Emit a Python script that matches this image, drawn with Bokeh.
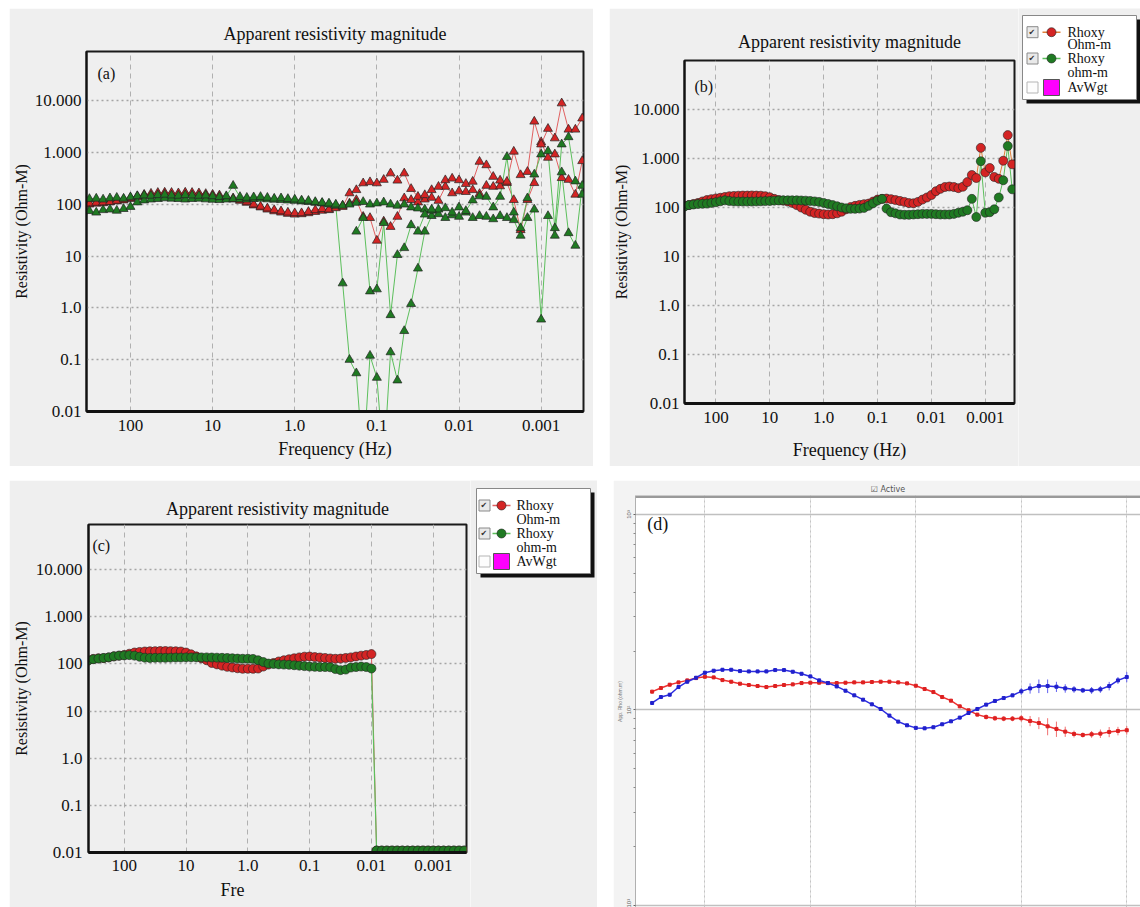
from bokeh.plotting import figure
from bokeh.models import Range1d, FixedTicker, Label, Title, Spacer, Grid, Span
from bokeh.core.properties import value
from bokeh.layouts import row, column
from bokeh.embed import file_html
from bokeh.resources import INLINE

SERIF = "Liberation Serif"
BG = "#efefef"

# ---------------- data ----------------
FREQ = [383.1, 316.2, 261.0, 215.4, 177.8, 146.8, 121.2, 100.0, 82.54, 68.13, 56.23, 46.42,
        38.31, 31.62, 26.10, 21.54, 17.78, 14.68, 12.12, 10.0, 8.254, 6.813, 5.623, 4.642,
        3.831, 3.162, 2.610, 2.154, 1.778, 1.468, 1.212, 1.0, 0.8254, 0.6813, 0.5623, 0.4642,
        0.3831, 0.3162, 0.2610, 0.2154, 0.1778, 0.1468, 0.1212, 0.1, 0.08254, 0.06813, 0.05623, 0.04642,
        0.03831, 0.03162, 0.02610, 0.02154, 0.01778, 0.01468, 0.01212, 0.01, 0.008254, 0.006813, 0.005623, 0.004642,
        0.003831, 0.003162, 0.002610, 0.002154, 0.001778, 0.001468, 0.001212, 0.001, 0.0008254, 0.0006813, 0.0005623, 0.0004642,
        0.0003831, 0.0003162]

X_TICKS = [100, 10, 1, 0.1, 0.01, 0.001]
X_LABELS = ["100", "10", "1.0", "0.1", "0.01", "0.001"]
Y_TICKS = [0.01, 0.1, 1, 10, 100, 1000, 10000]
Y_LABELS = ["0.01", "0.1", "1.0", "10", "100", "1.000", "10.000"]

# panel (a)
A_RED1 = [100, 105, 108, 110, 112, 118, 125, 135, 145, 155, 162, 168, 170, 168, 165, 170, 168, 165, 160, 155,
          150, 140, 132, 125, 113, 100, 91, 84, 78, 74, 70, 68, 68, 72, 78, 82, 80, 85, 90,
          165, 190, 257, 270, 257, 300, 400, 290, 400, 200, 141, 152, 190, 220, 295, 317, 295, 250, 276, 670,
          575, 343, 290, 276, 1050, 370, 427, 4000, 1450, 2900, 1900, 9000, 2800, 2800, 4600]
A_RED2 = [95, 100, 104, 106, 110, 115, 120, 128, 138, 148, 152, 158, 160, 158, 156, 160, 158, 155, 150, 146,
          140, 132, 125, 118, 108, 96, 88, 80, 74, 70, 66, 64, 65, 68, 72, 76, 78,
          90, 95, 105, 122, 58, 55, 20, 47, 37, 58, 132, 122, 110, 125, 135, 118, 220, 165, 180, 175,
          190, 160, 230, 220, 225, 260, 122, 32, 122, 260, 1600, 800, 930, 325, 300, 155, 690]
A_GREEN1 = [120, 128, 130, 125, 132, 135, 130, 138, 145, 150, 148, 152, 155, 150, 148, 152, 150, 148, 150, 145,
            140, 145, 230, 140, 135, 138, 140, 135, 130, 132, 128, 125, 120, 118, 112, 108, 105, 100, 95,
            100, 108, 112, 100, 105, 110, 100, 95, 100, 88, 84, 80, 76, 80, 85, 70, 88, 75, 120, 144,
            141, 88, 141, 830, 70, 35, 132, 380, 930, 1070, 35, 1450, 2000, 280, 155]
A_GREEN2 = [72, 75, 70, 78, 80, 76, 82, 90, 110, 120, 125, 128, 132, 130, 128, 125, 128, 130, 126, 124,
            122, 125, 128, 126, 125, 128, 130, 126, 124, 122, 120, 118, 115, 112, 108, 105, 100, 95,
            3.0, 0.1, 0.055, 0.001, 0.12, 0.045, 0.001, 0.14, 0.04, 0.36, 1.2, 5.8, 30, 60, 65, 55, 62, 58,
            70, 55, 60, 58, 52, 60, 55, 50, 25, 55, 80, 0.6, 60, 25, 420, 28, 16, 230]
A_GREEN3_FREQ = [0.1778, 0.1468, 0.1212, 0.1, 0.08254, 0.06813, 0.05623, 0.04642, 0.03831, 0.03162, 0.02610, 0.02154]
A_GREEN3 = [30, 55, 2.1, 2.3, 44, 0.73, 10.6, 14.4, 40, 30, 64, 80]

# panel (b)
B_RED = [108, 112, 118, 124, 133, 142, 148, 153, 158, 164,
         170, 172, 174, 175, 175, 176, 175, 174, 170, 162,
         150, 142, 138, 132, 124, 112, 100, 90, 82, 77,
         75, 73, 72, 73, 76, 82, 92, 102, 108, 113,
         117, 120, 132, 145, 150, 152, 148, 142, 136, 130,
         123, 122, 130, 145, 160, 180, 215, 240, 262, 268,
         262, 248, 265, 330, 460, 400, 1650, 520, 640, 420,
         385, 900, 3000, 760]
B_GREEN = [105, 112, 115, 118, 119, 120, 124, 128, 134, 140,
           136, 133, 132, 132, 132, 132, 133, 134, 135, 136,
           138, 139, 140, 140, 140, 140, 139, 138, 136, 133,
           130, 124, 118, 112, 106, 100, 96, 94, 94, 95,
           98, 108, 122, 138, 150, 95, 80, 76, 72, 71,
           71, 72, 73, 74, 74, 74, 73, 72, 72, 72,
           74, 78, 82, 88, 150, 64, 880, 78, 80, 92,
           160, 360, 1800, 235]

# panel (c)
C_RED = [120, 128, 132, 133, 138, 145, 150, 155, 165, 175,
         180, 184, 186, 187, 188, 188, 187, 186, 184, 175,
         160, 145, 132, 120, 105, 98, 92, 87, 84, 81,
         79, 79, 79, 80, 88, 97, 105, 113, 120, 126,
         132, 138, 143, 144, 140, 137, 134, 131, 129, 130,
         134, 138, 144, 150, 155, 162,
         0.011, 0.011, 0.011, 0.011, 0.011, 0.011, 0.011, 0.011, 0.011,
         0.011, 0.011, 0.011, 0.011, 0.011, 0.011, 0.011, 0.011, 0.011]
C_GREEN = [118, 126, 130, 134, 138, 145, 150, 152, 154, 150,
           142, 136, 134, 135, 135, 135, 136, 137, 137, 138,
           138, 138, 138, 138, 137, 136, 135, 134, 132, 130,
           129, 129, 128, 120, 110, 102, 100, 98, 97, 96,
           94, 92, 90, 88, 87, 86, 86, 85, 78, 74,
           76, 84, 86, 88, 86, 80,
           0.011, 0.011, 0.011, 0.011, 0.011, 0.011, 0.011, 0.011, 0.011,
           0.011, 0.011, 0.011, 0.011, 0.011, 0.011, 0.011, 0.011, 0.011]

# panel (d)
D_PERIOD = [0.0003162, 0.0003831, 0.0004642, 0.0005623, 0.0006813, 0.0008254,
            0.001, 0.001212, 0.001468, 0.001778, 0.002154, 0.002610, 0.003162, 0.003831, 0.004642, 0.005623, 0.006813, 0.008254,
            0.01, 0.01212, 0.01468, 0.01778, 0.02154, 0.02610, 0.03162, 0.03831, 0.04642, 0.05623, 0.06813, 0.08254,
            0.1, 0.1212, 0.1468, 0.1778, 0.2154, 0.2610, 0.3162, 0.3831, 0.4642, 0.5623, 0.6813, 0.8254,
            1.0, 1.212, 1.468, 1.778, 2.154, 2.610, 3.162, 3.831, 4.642, 5.623, 6.813, 8.254, 10.0]
D_BLUE = [108.6, 116.5, 119.7, 131.0, 139.5, 146.2, 155.1, 158.8, 160.6, 160.6,
          158.1, 157.5, 157.5, 157.5, 160.0, 160.0, 156.9, 153.2, 148.5, 141.7,
          137.3, 132.0, 125.5, 118.8, 112.9, 106.9, 101.2, 93.6, 87.2, 83.5,
          81.0, 80.6, 81.6, 84.5, 87.5, 91.4, 96.5, 101.2, 106.5, 111.2,
          115.1, 118.8, 124.5, 129.0, 132.6, 132.6, 131.5, 129.0, 127.5, 126.0,
          126.0, 127.5, 132.6, 141.7, 147.4]
D_RED = [124.1, 129.5, 134.7, 138.4, 141.7, 145.6, 147.9, 146.8, 142.2, 139.5,
         136.3, 134.2, 132.6, 131.0, 132.6, 134.2, 135.2, 137.3, 137.9, 137.9,
         137.3, 137.3, 137.9, 138.4, 138.4, 139.0, 139.5, 139.5, 138.4, 136.8,
         133.1, 128.0, 123.5, 116.5, 111.6, 104.4, 99.6, 94.7, 92.1, 90.7,
         90.3, 90.3, 90.7, 87.9, 85.8, 82.5, 80.0, 77.5, 75.4, 74.5,
         75.1, 75.7, 77.2, 78.1, 78.8]
D_BLUE_ERR = [2, 2, 2, 2, 2, 2, 2, 2, 2, 2, 2, 2, 2, 2, 2, 2, 2, 2, 2, 2,
              2, 2, 2, 2, 2, 2, 2, 2, 2, 2, 2, 2, 2, 2, 2, 2, 2, 2, 2, 2,
              2, 2, 4, 6, 8, 8, 6, 5, 4, 3, 4, 4, 5, 4, 6]
D_RED_ERR = [2, 2, 2, 2, 2, 2, 2, 2, 2, 2, 2, 2, 2, 2, 2, 2, 2, 2, 2, 2,
             2, 2, 2, 2, 2, 2, 2, 2, 2, 2, 2, 2, 2, 2, 2, 2, 2, 2, 3, 3,
             3, 3, 4, 6, 7, 10, 9, 6, 4, 3, 4, 5, 6, 5, 5]
D_X_TICKS = [0.001, 0.01, 0.1, 1, 10]
D_Y_TICKS = [10, 100, 1000]
D_Y_LABELS = ["10\u00b9", "10\u00b2", "10\u00b3"]
D_Y_MINOR = [20, 30, 40, 50, 60, 70, 80, 90, 200, 300, 400, 500, 600, 700, 800, 900]

LEGEND_TEXT = ["Rhoxy", "Ohm-m", "Rhoxy", "ohm-m", "AvWgt"]

RED_F, RED_L = "#d42424", "#e06060"
GRN_F, GRN_L = "#1f7a22", "#5cbf5c"


def base_panel(width, height, xr, yr, title, borders, xlabel, ylabel):
    l, r, t, b = borders
    p = figure(width=width, height=height, x_axis_type="log", y_axis_type="log",
               x_range=Range1d(*xr), y_range=Range1d(*yr), title=title,
               toolbar_location=None, output_backend="svg",
               min_border_left=l, min_border_right=r, min_border_top=t, min_border_bottom=b)
    p.background_fill_color = BG
    p.border_fill_color = BG
    p.outline_line_color = "#1a1a1a"
    p.outline_line_width = 2
    p.title.text_font = SERIF
    p.title.text_font_size = "18px"
    p.title.text_font_style = "normal"
    p.title.align = "center"
    p.title.text_color = "#111111"
    p.xaxis.ticker = FixedTicker(ticks=X_TICKS)
    p.yaxis.ticker = FixedTicker(ticks=Y_TICKS)
    p.xaxis.major_label_overrides = dict(zip(X_TICKS, X_LABELS))
    p.yaxis.major_label_overrides = dict(zip(Y_TICKS, Y_LABELS))
    for ax in p.axis:
        ax.major_label_text_font = SERIF
        ax.major_label_text_font_size = "17px"
        ax.major_label_text_color = "#111111"
        ax.axis_label_text_font = SERIF
        ax.axis_label_text_font_style = "normal"
        ax.axis_label_text_color = "#111111"
        ax.major_tick_line_color = None
        ax.minor_tick_line_color = None
        ax.major_tick_out = 0
        ax.minor_tick_out = 0
        ax.major_tick_in = 0
        ax.minor_tick_in = 0
        ax.axis_line_color = "#111111"
        ax.axis_line_width = 2
    p.xaxis.axis_line_width = 3
    p.xaxis.axis_label_text_font_size = "18px"
    p.yaxis.axis_label_text_font_size = "16px"
    if xlabel:
        p.xaxis.axis_label = xlabel
    p.yaxis.axis_label = ylabel
    p.xgrid.grid_line_color = "#b0b0b0"
    p.xgrid.grid_line_dash = "5 4"
    p.xgrid.grid_line_width = 1
    p.ygrid.grid_line_color = "#a5a5a5"
    p.ygrid.grid_line_dash = "2 3"
    p.ygrid.grid_line_width = 1.5
    return p


def tag(p, text, x, y, size="16px"):
    p.add_layout(Label(x=x, y=y, text=text, text_font=SERIF, text_font_size=size,
                       text_baseline="middle", text_color="#111111"))


def legend_panel(width, height, box, cb_x, line_x, mk_x, txt_x, rows, red_line):
    """Legend drawn in its own small panel, in pixel units of that panel."""
    f = figure(width=width, height=height, x_range=Range1d(0, width), y_range=Range1d(height, 0),
               x_axis_location=None, y_axis_location=None, toolbar_location=None,
               output_backend="svg", min_border=0)
    f.background_fill_color = BG
    f.border_fill_color = BG
    f.outline_line_color = None
    f.xgrid.visible = False
    f.ygrid.visible = False
    l, r, t, b = box
    f.quad(left=[l + 4], right=[r + 4], top=[t + 4], bottom=[b + 4], fill_color="#111111", line_color=None)
    f.quad(left=[l], right=[r], top=[t], bottom=[b], fill_color="white", line_color="#888888", line_width=1)
    f.scatter(x=[cb_x, cb_x], y=[rows[0], rows[2]], marker="square", size=11,
              fill_color="#e9e9e9", line_color="#8a8a8a", line_width=1)
    f.text(x=[cb_x - 4, cb_x - 4], y=[rows[0], rows[2]], text=["\u2714", "\u2714"],
           text_font=value("DejaVu Sans"), text_font_size="8px", text_baseline="middle",
           text_color="#333333")
    f.scatter(x=[cb_x], y=[rows[4]], marker="square", size=11,
              fill_color="#fdfdfd", line_color="#b5b5b5", line_width=1)
    f.segment(x0=[line_x[0]], x1=[line_x[1]], y0=[rows[0]], y1=[rows[0]], line_color=red_line, line_width=1.5)
    f.segment(x0=[line_x[0]], x1=[line_x[1]], y0=[rows[2]], y1=[rows[2]], line_color=GRN_L, line_width=1.5)
    f.scatter(x=[mk_x], y=[rows[0]], marker="circle", size=9, fill_color=RED_F, line_color="#222222", line_width=0.6)
    f.scatter(x=[mk_x], y=[rows[2]], marker="circle", size=9, fill_color=GRN_F, line_color="#222222", line_width=0.6)
    f.scatter(x=[mk_x], y=[rows[4]], marker="square", size=16, fill_color="#ff00ff", line_color="#555555", line_width=1)
    f.text(x=[txt_x] * 5, y=rows, text=LEGEND_TEXT, text_font=value(SERIF), text_font_size="14px",
           text_baseline="middle", text_color="#111111")
    return f


# ---------------- panel (a) ----------------
pa = base_panel(584, 458, (343, 3.05e-4), (0.01, 9e4), "Apparent resistivity magnitude",
                (73, 10, 43, 55), "Frequency (Hz)", "Resistivity (Ohm-M)")
pa.title.standoff = 15
pa.xaxis.major_label_standoff = 8
pa.xaxis.axis_label_standoff = 5
pa.yaxis.major_label_standoff = 5
pa.yaxis.axis_label_standoff = 2
for ys in (A_RED1, A_RED2):
    pa.line(FREQ, ys, line_color=RED_L, line_width=1)
for ys in (A_GREEN1, A_GREEN2):
    pa.line(FREQ, ys, line_color=GRN_L, line_width=1)
pa.line(A_GREEN3_FREQ, A_GREEN3, line_color=GRN_L, line_width=1)
for ys in (A_RED2, A_RED1):
    pa.scatter(FREQ, ys, marker="triangle", size=9, fill_color=RED_F, line_color="#222222", line_width=0.7)
for ys in (A_GREEN2, A_GREEN1):
    pa.scatter(FREQ, ys, marker="triangle", size=9, fill_color=GRN_F, line_color="#222222", line_width=0.7)
pa.scatter(A_GREEN3_FREQ, A_GREEN3, marker="triangle", size=9, fill_color=GRN_F, line_color="#222222", line_width=0.7)
tag(pa, "(a)", 252, 3.4e4)

# ---------------- panel (b) ----------------
pb = base_panel(409, 458, (383, 2.87e-4), (0.01, 1e5), "Apparent resistivity magnitude",
                (73, 4, 52, 63), "Frequency (Hz)", "Resistivity (Ohm-M)")
pb.title.standoff = 18
pb.xaxis.major_label_standoff = 8
pb.xaxis.axis_label_standoff = 14
pb.yaxis.major_label_standoff = 5
pb.yaxis.axis_label_standoff = 0
pb.line(FREQ, B_RED, line_color="#e0803a", line_width=1)
pb.line(FREQ, B_GREEN, line_color=GRN_L, line_width=1)
pb.scatter(FREQ, B_RED, marker="circle", size=9, fill_color=RED_F, line_color="#222222", line_width=0.6)
pb.scatter(FREQ, B_GREEN, marker="circle", size=9, fill_color=GRN_F, line_color="#222222", line_width=0.6)
tag(pb, "(b)", 251, 2.9e4)
lb = legend_panel(122, 458, (4, 118, 7, 91), 14, (24, 42), 33, 49, [23.7, 36, 50, 64, 79], "#e0803a")

# ---------------- panel (c) ----------------
pc = base_panel(461, 427, (378, 2.9e-4), (0.01, 9.1e4), "Apparent resistivity magnitude",
                (76, 4, 44, 55), None, "Resistivity (Ohm-M)")
pc.title.standoff = 12
pc.xaxis.major_label_standoff = 7
pc.yaxis.major_label_standoff = 6
pc.yaxis.axis_label_standoff = 3
pc.add_layout(Title(text="Fre", align="left", offset=132, text_font=SERIF, text_font_size="18px",
                    text_font_style="normal", text_color="#111111", standoff=8), "below")
pc.line(FREQ, C_RED, line_color="#e06060", line_width=1)
pc.line(FREQ, C_GREEN, line_color=GRN_L, line_width=1.2)
pc.scatter(FREQ, C_RED, marker="circle", size=9, fill_color=RED_F, line_color="#222222", line_width=0.6)
pc.scatter(FREQ, C_GREEN, marker="circle", size=9, fill_color=GRN_F, line_color="#222222", line_width=0.6)
tag(pc, "(c)", 327, 3.3e4)
lc = legend_panel(127, 427, (6, 120, 8, 93), 14, (22, 40), 31, 46, [25, 39, 53, 67, 81], "#e06060")

# ---------------- panel (d) ----------------
pd = figure(width=527, height=427, x_axis_type="log", y_axis_type="log",
            x_range=Range1d(2.2e-4, 13.5), y_range=Range1d(9.77, 1250),
            x_axis_location=None, title="\u2611 Active",
            toolbar_location=None, output_backend="svg",
            min_border_left=17, min_border_right=0, min_border_top=14, min_border_bottom=0)
pd.background_fill_color = "white"
pd.border_fill_color = "#f3f3f3"
pd.outline_line_color = None
pd.title.text_font = "DejaVu Sans"
pd.title.text_font_size = "8px"
pd.title.text_font_style = "normal"
pd.title.text_color = "#555555"
pd.title.align = "center"
pd.title.standoff = 4
pd.yaxis.ticker = FixedTicker(ticks=D_Y_TICKS, minor_ticks=D_Y_MINOR)
pd.yaxis.major_label_overrides = dict(zip(D_Y_TICKS, D_Y_LABELS))
pd.yaxis.major_label_orientation = "vertical"
pd.yaxis.major_label_text_font_size = "6px"
pd.yaxis.major_label_text_color = "#666666"
pd.yaxis.major_label_standoff = 1
pd.yaxis.axis_label = "App. Rho (ohm.m)"
pd.yaxis.axis_label_text_font_size = "5px"
pd.yaxis.axis_label_text_font_style = "normal"
pd.yaxis.axis_label_text_color = "#777777"
pd.yaxis.axis_label_standoff = 1
pd.yaxis.axis_line_color = "#b0b0b0"
pd.yaxis.major_tick_line_color = "#666666"
pd.yaxis.major_tick_out = 2
pd.yaxis.major_tick_in = 0
pd.yaxis.minor_tick_line_color = "#888888"
pd.yaxis.minor_tick_out = 2
pd.yaxis.minor_tick_in = 0
pd.ygrid.grid_line_color = "#c0c0c0"
pd.ygrid.grid_line_width = 1.5
pd.add_layout(Grid(dimension=0, ticker=FixedTicker(ticks=D_X_TICKS), grid_line_color="#c4c4c4",
                   grid_line_dash="2 3"))
pd.add_layout(Span(location=pd.y_range.end, dimension="width", line_color="#9a9a9a", line_width=5))

blue_lo = [v * (1 - e / 100) for v, e in zip(D_BLUE, D_BLUE_ERR)]
blue_hi = [v * (1 + e / 100) for v, e in zip(D_BLUE, D_BLUE_ERR)]
red_lo = [v * (1 - e / 100) for v, e in zip(D_RED, D_RED_ERR)]
red_hi = [v * (1 + e / 100) for v, e in zip(D_RED, D_RED_ERR)]
pd.segment(D_PERIOD, red_lo, D_PERIOD, red_hi, line_color="#f07070", line_width=1)
pd.segment(D_PERIOD, blue_lo, D_PERIOD, blue_hi, line_color="#6060f0", line_width=1)
pd.line(D_PERIOD, D_RED, line_color="#ee3030", line_width=1.5)
pd.line(D_PERIOD, D_BLUE, line_color="#2c2ce0", line_width=1.5)
pd.scatter(D_PERIOD, D_RED, marker="square", size=3, fill_color="#dd2020", line_color="#dd2020")
pd.scatter(D_PERIOD, D_BLUE, marker="square", size=3, fill_color="#2020cc", line_color="#2020cc")
tag(pd, "(d)", 2.85e-4, 889, size="18px")

layout = column(
    Spacer(height=8),
    row(Spacer(width=9), column(pa), Spacer(width=16), column(pb), column(lb)),
    Spacer(height=14),
    row(Spacer(width=9), column(pc), column(lc), Spacer(width=16), column(pd)),
)
open("out.html", "w").write(file_html(layout, INLINE))
